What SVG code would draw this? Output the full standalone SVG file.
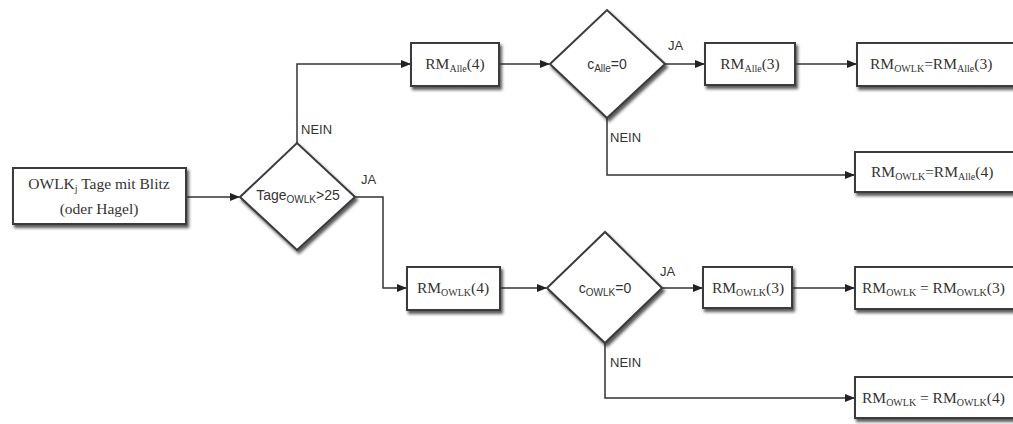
<svg xmlns="http://www.w3.org/2000/svg" width="1013" height="424" viewBox="0 0 1013 424">
<defs>
<style>
.box{fill:#fff;stroke:#3a3a3a;stroke-width:2;filter:url(#sh)}
.dia{fill:#fff;stroke:#3a3a3a;stroke-width:2;filter:url(#sh)}
.bt{font-family:"Liberation Serif",serif;font-size:15.5px;fill:#333}
.dt{font-family:"Liberation Sans",sans-serif;font-size:14px;fill:#333}
.lb{font-family:"Liberation Sans",sans-serif;font-size:13px;fill:#333}
.sub{font-size:10px;fill:#333}
.c{fill:none;stroke:#333;stroke-width:1.5}
</style>
<filter id="sh" x="-20%" y="-20%" width="150%" height="160%">
<feDropShadow dx="2" dy="3" stdDeviation="1.8" flood-color="#222" flood-opacity="0.75"/>
</filter>
<marker id="ah" markerUnits="userSpaceOnUse" markerWidth="10" markerHeight="8" refX="9" refY="4" orient="auto">
<path d="M0,0 L10,4 L0,8 Z" fill="#222"/>
</marker>
</defs>
<rect width="1013" height="424" fill="#fff"/>
<g id="connectors">
<path class="c" d="M186,197 H239" marker-end="url(#ah)"/>
<path class="c" d="M297,143 V64 H410" marker-end="url(#ah)"/>
<path class="c" d="M355,197 H383 V288 H406" marker-end="url(#ah)"/>
<path class="c" d="M499,64 H549" marker-end="url(#ah)"/>
<path class="c" d="M665,64 H704" marker-end="url(#ah)"/>
<path class="c" d="M795,64 H856" marker-end="url(#ah)"/>
<path class="c" d="M607,118 V175 H854" marker-end="url(#ah)"/>
<path class="c" d="M500,288 H546" marker-end="url(#ah)"/>
<path class="c" d="M662,288 H702" marker-end="url(#ah)"/>
<path class="c" d="M792,288 H854" marker-end="url(#ah)"/>
<path class="c" d="M605,343 V398 H854" marker-end="url(#ah)"/>
<text class="lb" x="301" y="134">NEIN</text>
<text class="lb" x="361" y="184">JA</text>
<text class="lb" x="668" y="50">JA</text>
<text class="lb" x="610" y="142">NEIN</text>
<text class="lb" x="660" y="276">JA</text>
<text class="lb" x="610" y="367">NEIN</text>
</g>
<g id="start">
<rect class="box" x="13" y="168" width="173" height="56"/>
<text class="bt" x="99" y="189" text-anchor="middle">OWLK<tspan class="sub" dy="3">j</tspan><tspan dy="-3"> Tage mit Blitz</tspan></text>
<text class="bt" x="99" y="214" text-anchor="middle">(oder Hagel)</text>
</g>
<g id="d1">
<polygon class="dia" points="240,197 297,143 355,197 297,250"/>
<text class="dt" x="298" y="200" text-anchor="middle">Tage<tspan class="sub" dy="3">OWLK</tspan><tspan dy="-3">&gt;25</tspan></text>
</g>
<g id="rmalle4">
<rect class="box" x="411" y="43" width="88" height="43"/>
<text class="bt" x="455" y="69" text-anchor="middle">RM<tspan class="sub" dy="3">Alle</tspan><tspan dy="-3">(4)</tspan></text>
</g>
<g id="d2">
<polygon class="dia" points="550,64 607,10 665,64 607,118"/>
<text class="dt" x="607" y="69" text-anchor="middle">c<tspan class="sub" dy="3">Alle</tspan><tspan dy="-3">=0</tspan></text>
</g>
<g id="rmalle3">
<rect class="box" x="705" y="43" width="90" height="42"/>
<text class="bt" x="750" y="69" text-anchor="middle">RM<tspan class="sub" dy="3">Alle</tspan><tspan dy="-3">(3)</tspan></text>
</g>
<g id="res1">
<rect class="box" x="857" y="43" width="170" height="43"/>
<text class="bt" x="870" y="69">RM<tspan class="sub" dy="3">OWLK</tspan><tspan dy="-3">=RM</tspan><tspan class="sub" dy="3">Alle</tspan><tspan dy="-3">(3)</tspan></text>
</g>
<g id="res2">
<rect class="box" x="855" y="152" width="170" height="40"/>
<text class="bt" x="871" y="177">RM<tspan class="sub" dy="3">OWLK</tspan><tspan dy="-3">=RM</tspan><tspan class="sub" dy="3">Alle</tspan><tspan dy="-3">(4)</tspan></text>
</g>
<g id="rmowlk4">
<rect class="box" x="407" y="267" width="93" height="43"/>
<text class="bt" x="453" y="293" text-anchor="middle">RM<tspan class="sub" dy="3">OWLK</tspan><tspan dy="-3">(4)</tspan></text>
</g>
<g id="d3">
<polygon class="dia" points="547,288 605,232 662,288 605,343"/>
<text class="dt" x="605" y="293" text-anchor="middle">c<tspan class="sub" dy="3">OWLK</tspan><tspan dy="-3">=0</tspan></text>
</g>
<g id="rmowlk3">
<rect class="box" x="703" y="267" width="89" height="41"/>
<text class="bt" x="748" y="293" text-anchor="middle">RM<tspan class="sub" dy="3">OWLK</tspan><tspan dy="-3">(3)</tspan></text>
</g>
<g id="res3">
<rect class="box" x="855" y="267" width="170" height="42"/>
<text class="bt" x="862" y="293">RM<tspan class="sub" dy="3">OWLK</tspan><tspan dy="-3"> = RM</tspan><tspan class="sub" dy="3">OWLK</tspan><tspan dy="-3">(3)</tspan></text>
</g>
<g id="res4">
<rect class="box" x="855" y="377" width="170" height="41"/>
<text class="bt" x="862" y="403">RM<tspan class="sub" dy="3">OWLK</tspan><tspan dy="-3"> = RM</tspan><tspan class="sub" dy="3">OWLK</tspan><tspan dy="-3">(4)</tspan></text>
</g>
</svg>
